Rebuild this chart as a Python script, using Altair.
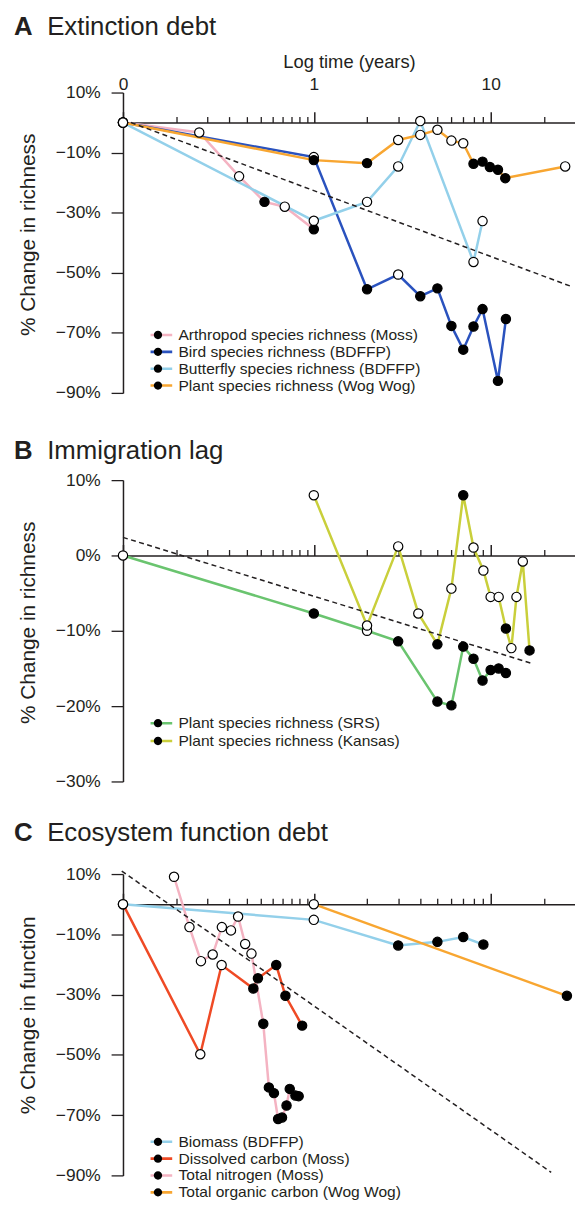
import altair as alt
import pandas as pd

T0 = 1 / 12  # where the "0" label of the log axis sits (years)
FONT = "Liberation Sans"
INK = "#231f20"

# ---------------- Panel A: Extinction debt ----------------
A_SERIES = ["Arthropod species richness (Moss)", "Bird species richness (BDFFP)",
            "Butterfly species richness (BDFFP)", "Plant species richness (Wog Wog)"]
A_COLORS = ["#f4b3c2", "#2a52be", "#93d0ea", "#f8a631"]

arth_t = [T0, 0.225, 0.378, 0.526, 0.685, 1.0]
arth_v = [0, -3.3, -17.9, -26.4, -28.0, -35.5]
arth_s = ["open", "open", "open", "filled", "open", "filled"]

plantww_t = [T0, 1, 2, 3, 4, 5, 6, 7, 8, 9, 9.9, 11, 12.1, 26.4]
plantww_v = [0, -12.5, -13.5, -5.8, -4.1, -2.4, -6.0, -6.9, -13.7, -13.0, -14.8, -15.7, -18.5, -14.6]
plantww_s = ["open", "filled", "filled", "open", "open", "open", "open", "open",
             "filled", "filled", "filled", "filled", "filled", "open"]

bird_t = [T0, 1, 2, 3, 4, 5, 6, 7, 8, 9, 11, 12.2]
bird_v = [0, -11.5, -55.5, -50.6, -57.8, -55.2, -67.7, -75.6, -67.9, -62.1, -86.0, -65.4]
bird_s = ["open", "open", "filled", "open", "filled", "filled", "filled", "filled",
          "filled", "filled", "filled", "filled"]

butter_t = [T0, 1, 2, 3, 4, 8, 9]
butter_v = [0, -32.7, -26.4, -14.6, 0.5, -46.4, -32.8]
butter_s = ["open"] * 7

A_trend_t = [T0, 28.1]
A_trend_v = [1.0, -54.4]

# ---------------- Panel B: Immigration lag ----------------
B_SERIES = ["Plant species richness (SRS)", "Plant species richness (Kansas)"]
B_COLORS = ["#6ac46f", "#c9cf3b"]

srs_t = [T0, 1, 2, 3, 5, 6, 7, 8, 9, 10, 11.1, 12.2]
srs_v = [0, -7.7, -10.0, -11.4, -19.4, -19.9, -12.1, -13.7, -16.6, -15.2, -15.0, -15.6]
srs_s = ["open", "filled", "open", "filled", "filled", "filled", "filled", "filled",
         "filled", "filled", "filled", "filled"]

kansas_t = [1, 2, 3, 3.9, 5, 6, 7, 8, 9.1, 10, 11.1, 12.2, 13.1, 14.0, 15.2, 16.6]
kansas_v = [8.0, -9.3, 1.2, -7.7, -11.8, -4.4, 8.0, 1.05, -2.0, -5.5, -5.5, -9.7, -12.3, -5.5, -0.8, -12.6]
kansas_s = ["open", "open", "open", "open", "filled", "open", "filled", "open", "open",
            "open", "open", "filled", "open", "open", "open", "filled"]

B_trend_t = [T0, 17.5]
B_trend_v = [2.4, -14.4]

# ---------------- Panel C: Ecosystem function debt ----------------
C_SERIES = ["Biomass (BDFFP)", "Dissolved carbon (Moss)", "Total nitrogen (Moss)",
            "Total organic carbon (Wog Wog)"]
C_COLORS = ["#93d0ea", "#ef4a25", "#f4b3c2", "#f8a631"]

biomass_t = [T0, 1, 3, 5, 7, 9.1]
biomass_v = [0, -5.2, -13.7, -12.5, -10.9, -13.4]
biomass_s = ["open", "open", "filled", "filled", "filled", "filled"]

dissc_t = [T0, 0.228, 0.301, 0.455, 0.483, 0.613, 0.691, 0.859]
dissc_v = [0, -49.8, -20.2, -28.0, -24.6, -20.2, -30.4, -40.3]
dissc_s = ["open", "open", "open", "filled", "filled", "filled", "filled", "filled"]

nitro_t = [0.162, 0.198, 0.230, 0.268, 0.302, 0.340, 0.373, 0.409, 0.444,
           0.518, 0.557, 0.595, 0.628, 0.661, 0.701, 0.731, 0.787, 0.821]
nitro_v = [9.1, -7.6, -18.9, -16.7, -7.6, -8.7, -4.1, -13.2, -16.4,
           -39.7, -60.8, -62.7, -71.3, -70.8, -66.8, -61.3, -63.5, -63.7]
nitro_s = ["open"] * 9 + ["filled"] * 9

toc_t = [1, 27.0]
toc_v = [0, -30.4]
toc_s = ["open", "filled"]

C_trend_t = [0.082, 22.0]
C_trend_v = [11.0, -89.0]

MAJOR_TICKS = [T0, 1, 10]
MINOR_TICKS = [2 / 12, 3 / 12, 4 / 12, 5 / 12, 6 / 12, 7 / 12, 8 / 12, 9 / 12, 10 / 12, 11 / 12,
               2, 3, 4, 5, 6, 7, 8, 9, 20]

LINE_SYMBOL = "M-2.333,0H2.333"
DOT_SYMBOL = "M-0.7,0A0.7,0.7 0 1,0 0.7,0A0.7,0.7 0 1,0 -0.7,0Z"


def frame(series, parts):
    rows = []
    for i, (name, (ts, vs, ss)) in enumerate(zip(series, parts)):
        for t, v, s in zip(ts, vs, ss):
            rows.append({"series": name, "code": "k%d" % i, "t": t, "v": v, "sig": s})
    return pd.DataFrame(rows)


def panel(df, trend, series, colors, height, ydom, yvals, ytitle, zero_off, labels,
          letter, title, title_y, leg_y, entry_h, ytitle_y):
    xscale = alt.Scale(type="log", domain=[T0, 30], nice=False, zero=False)
    yscale = alt.Scale(domain=ydom, nice=False, zero=False)

    minor_axis = alt.Axis(orient="top", values=MINOR_TICKS, tickSize=6, labels=False, title=None,
                          domain=True, domainColor=INK, domainWidth=1.5, tickColor=INK,
                          tickWidth=1.3, offset=-zero_off, grid=False)
    major_kw = dict(orient="top", values=MAJOR_TICKS, tickSize=11, domain=False, tickColor=INK,
                    tickWidth=1.5, offset=-zero_off, grid=False)
    if labels:
        major_axis = alt.Axis(labels=True,
                              labelExpr="datum.value < 0.5 ? '0' : format(datum.value, 'd')",
                              labelFont=FONT, labelFontSize=17.5, labelColor=INK, labelPadding=18,
                              labelFlush=False, labelOverlap=False,
                              title="Log time (years)", titleFont=FONT, titleFontSize=18.5,
                              titleFontWeight="normal", titleColor=INK, titlePadding=5,
                              **major_kw)
    else:
        major_axis = alt.Axis(labels=False, title=None, **major_kw)

    def yenc():
        return alt.Y("v:Q", scale=yscale, axis=alt.Axis(
            values=yvals, labelExpr="format(datum.value, 'd') + '%'",
            tickSize=12, labelPadding=11, labelFont=FONT, labelFontSize=17.5,
            labelColor=INK, domainColor=INK, domainWidth=1.5, tickColor=INK,
            tickWidth=1.3, grid=False, title=ytitle, titleFont=FONT,
            titleFontSize=21, titleFontWeight="normal", titleColor=INK,
            titlePadding=17, titleY=ytitle_y))

    leg_common = dict(orient="none", legendX=27.8, legendY=leg_y, direction="vertical",
                      title=None, symbolSize=144, symbolStrokeWidth=2.6, labelFont=FONT,
                      padding=0, labelOffset=12.5, clipHeight=entry_h, rowPadding=0,
                      symbolOffset=0, labelLimit=400)

    lines = alt.Chart(df).mark_line(strokeWidth=2.5).encode(
        x=alt.X("t:Q", scale=xscale, axis=minor_axis),
        y=yenc(),
        color=alt.Color("series:N", scale=alt.Scale(domain=series, range=colors),
                        legend=alt.Legend(symbolType=LINE_SYMBOL, labelColor=INK,
                                          labelFontSize=15.7, **leg_common)),
    )
    dashed = alt.Chart(pd.DataFrame({"t": trend[0], "v": trend[1]})).mark_line(
        strokeDash=[5, 3.5], color=INK, strokeWidth=1.5
    ).encode(
        x=alt.X("t:Q", scale=xscale, axis=major_axis),
        y=yenc(),
    )
    points = alt.Chart(df).mark_point(
        filled=True, shape="circle", size=88, stroke="black", strokeWidth=1.2, opacity=1
    ).encode(
        x=alt.X("t:Q", scale=xscale, axis=None),
        y=yenc(),
        fill=alt.Fill("sig:N", scale=alt.Scale(domain=["open", "filled"], range=["white", "black"]),
                      legend=None),
    )
    # black legend dots: a second, label-less legend keyed to the same series,
    # laid out with the same fixed entry height and drawn over the coloured line symbols
    codes = ["k%d" % i for i in range(len(series))]
    legend_dots = alt.Chart(df).transform_filter("false").mark_point(
        filled=True, color="black", stroke="black", opacity=1
    ).encode(
        x=alt.X("t:Q", scale=xscale, axis=None),
        y=yenc(),
        shape=alt.Shape("code:N", scale=alt.Scale(domain=codes, range=[DOT_SYMBOL] * len(series)),
                        legend=alt.Legend(symbolFillColor="black", symbolStrokeColor="black",
                                          labelExpr="''", labelFontSize=8, **leg_common)),
    )
    letter_txt = alt.Chart(pd.DataFrame({"label": [letter]})).mark_text(
        align="left", baseline="alphabetic", font=FONT, fontSize=26, fontWeight="bold", color=INK
    ).encode(text="label:N", x=alt.value(-110), y=alt.value(title_y))
    title_txt = alt.Chart(pd.DataFrame({"label": [title]})).mark_text(
        align="left", baseline="alphabetic", font=FONT, fontSize=26, color=INK
    ).encode(text="label:N", x=alt.value(-76.5), y=alt.value(title_y))

    return alt.layer(lines, dashed, points, legend_dots, letter_txt, title_txt).resolve_axis(
        x="independent").properties(width=456, height=height)


dfA = frame(A_SERIES, [(arth_t, arth_v, arth_s), (bird_t, bird_v, bird_s),
                       (butter_t, butter_v, butter_s), (plantww_t, plantww_v, plantww_s)])
dfB = frame(B_SERIES, [(srs_t, srs_v, srs_s), (kansas_t, kansas_v, kansas_s)])
dfC = frame(C_SERIES, [(biomass_t, biomass_v, biomass_s), (dissc_t, dissc_v, dissc_s),
                       (nitro_t, nitro_v, nitro_s), (toc_t, toc_v, toc_s)])

pA = panel(dfA, (A_trend_t, A_trend_v), A_SERIES, A_COLORS, 303, [-90, 10],
           [10, -10, -30, -50, -70, -90], "% Change in richness", 30.3, True,
           "A", "Extinction debt", -58.1, 236.25, 16.7, 143)
pB = panel(dfB, (B_trend_t, B_trend_v), B_SERIES, B_COLORS, 304, [-30, 10],
           [10, 0, -10, -20, -30], "% Change in richness", 76.0, False,
           "B", "Immigration lag", -21.0, 236.55, 17.3, 143.5)
pC = panel(dfC, (C_trend_t, C_trend_v), C_SERIES, C_COLORS, 304, [-90, 10],
           [10, -10, -30, -50, -70, -90], "% Change in function", 30.4, False,
           "C", "Ecosystem function debt", -32.9, 261.75, 16.7, 142)

lower = alt.vconcat(pB, pC, spacing=93.4, bounds="flush").resolve_scale(
    color="independent", shape="independent")
chart = alt.vconcat(pA, lower, spacing=88, bounds="flush").resolve_scale(
    color="independent", shape="independent"
).properties(
    padding={"left": 6, "top": 0, "right": 0, "bottom": 0}, background="white"
).configure_view(stroke=None)

chart.save("out.html", embed_options={"renderer": "svg", "actions": False})
